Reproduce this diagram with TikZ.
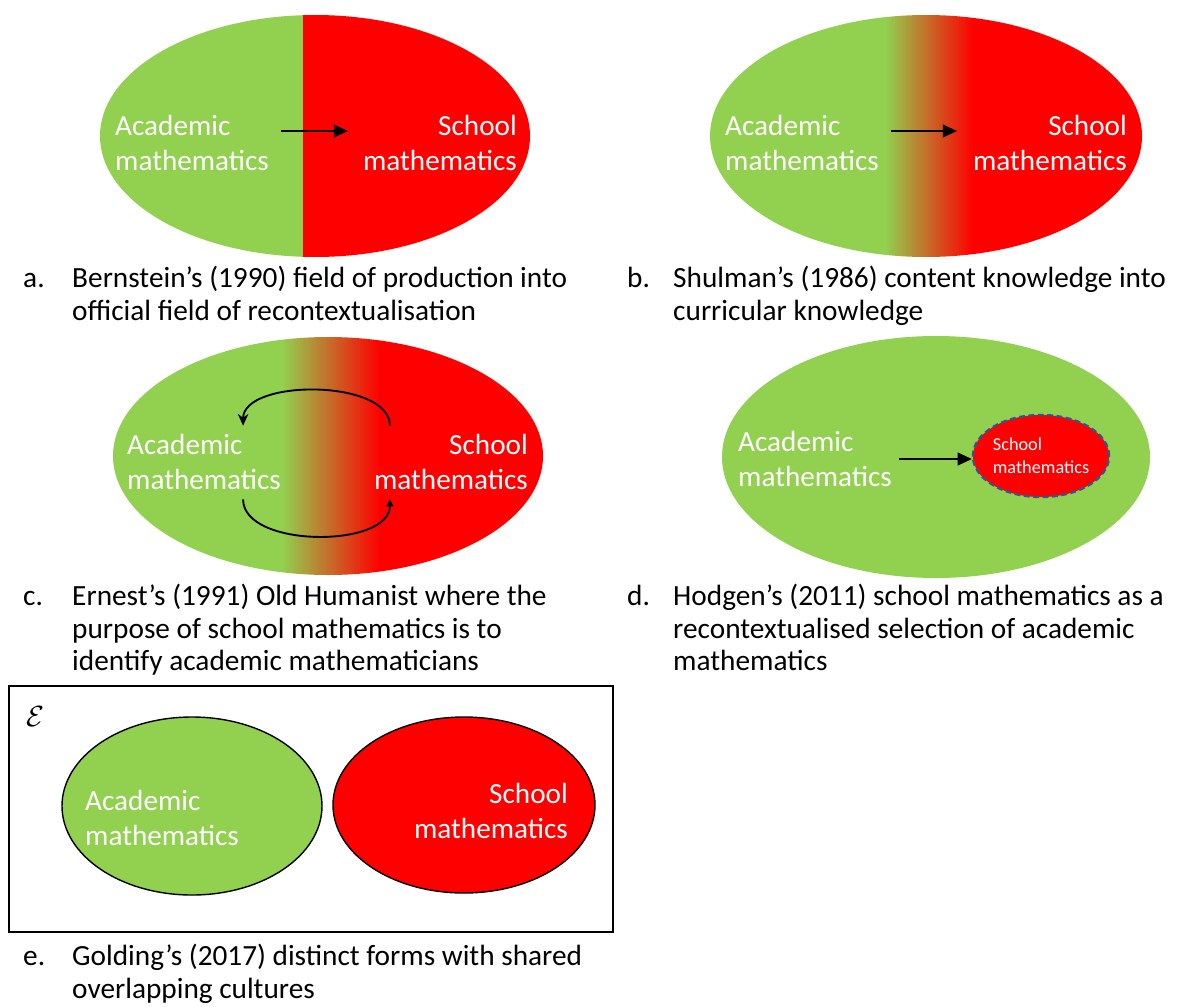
\documentclass[tikz,border=0pt]{standalone}
\usepackage{fontspec}
\setmainfont{Carlito}
\usetikzlibrary{arrows.meta}
\usetikzlibrary{shapes.geometric, positioning}
\definecolor{acadgreen}{RGB}{146,208,80}
\definecolor{schoolred}{RGB}{255,0,0}
\definecolor{dashblue}{RGB}{47,85,151}
\tikzset{
  lbl/.style={text=white, align=left, inner sep=0, anchor=west, font=\fontsize{24.9}{30.5}\selectfont},
  lblr/.style={lbl, align=right, anchor=east},
  captxt/.style={align=left, inner sep=0, anchor=north west, font=\fontsize{25}{28}\selectfont},
  arr/.style={-{Triangle[length=12pt,width=11pt]}, line width=1.1pt},
  cyclearr/.style={-{Stealth[length=10pt,width=9pt]}, line width=1.6pt},
}

\begin{document}
\begin{tikzpicture}[x=0.03cm, y=-0.03cm]
  \useasboundingbox (0,0) rectangle (1178,1006);

  % a. sharp split
  \begin{scope}
    \clip (315,136) ellipse [x radius=215, y radius=121];
    \fill[acadgreen] (90,0) rectangle (303,270);
    \fill[schoolred] (303,0) rectangle (540,270);
  \end{scope}
  \node[lbl] (acadA) at (115,143) {Academic\\mathematics};
  \node[lblr] (schoolA) at (517,143) {School\\mathematics};
  \draw[arr] ([shift={(12,-12)}]acadA.east) -- ([shift={(-15,-12)}]schoolA.west);
  \node[captxt] (labA) at (23,264) {\strut a.};
  \node[captxt] (capA) at (72,264) {\strut Bernstein’s (1990) field of production into\\official field of recontextualisation};

  % b. blended
  \begin{scope}
    \clip (926,136) ellipse [x radius=216, y radius=121];
    \fill[acadgreen] (700,0) rectangle (885,270);
    \shade[left color=acadgreen, right color=schoolred] (885,0) rectangle (973,270);
    \fill[schoolred] (973,0) rectangle (1150,270);
  \end{scope}
  \node[lbl] (acadB) at (725,143) {Academic\\mathematics};
  \node[lblr] (schoolB) at (1127,143) {School\\mathematics};
  \draw[arr] ([shift={(12,-12)}]acadB.east) -- ([shift={(-16,-12)}]schoolB.west);
  \node[captxt] (labB) at (627,264) {\strut b.};
  \node[captxt] (capB) at (673,264) {\strut Shulman’s (1986) content knowledge into\\curricular knowledge};

  % c. blended with cycle
  \begin{scope}
    \clip (328,456) ellipse [x radius=215, y radius=119];
    \fill[acadgreen] (100,330) rectangle (282,590);
    \shade[left color=acadgreen, right color=schoolred] (282,330) rectangle (380,590);
    \fill[schoolred] (380,330) rectangle (560,590);
  \end{scope}
  \node[lbl] (acadC) at (127,462) {Academic\\mathematics};
  \node[lblr] (schoolC) at (528,462) {School\\mathematics};
  \draw[cyclearr] ([shift={(16,-8)}]schoolC.north west) .. controls +(0,-47) and +(0,-47) .. ([shift={(-38,-8)}]acadC.north east);
  \draw[line width=1.6pt, -{Triangle[length=6pt,width=6pt]}] ([shift={(-38,9)}]acadC.south east) .. controls +(0,49) and +(0,49) .. ([shift={(16,9)}]schoolC.south west);
  \node[captxt] (labC) at (23,582) {\strut c.};
  \node[captxt] (capC) at (72,582) {\strut Ernest’s (1991) Old Humanist where the\\purpose of school mathematics is to\\identify academic mathematicians};

  % d. selection
  \fill[acadgreen] (936,457) ellipse [x radius=214, y radius=121];
  \node[lbl] (acadD) at (738,459) {Academic\\mathematics};
  \node[ellipse, fill=schoolred, draw=dashblue, dash pattern=on 5pt off 3pt, line width=2pt, minimum width=124*0.03cm, minimum height=82*0.03cm, inner sep=0, text=white, align=left, font=\fontsize{15.6}{19.6}\selectfont] (schoolD) at (1041,456) {School\\mathematics};
  \draw[arr] ([xshift=7*0.03cm]acadD.east) -- ([yshift=-3*0.03cm]schoolD.west);
  \node[captxt] (labD) at (627,582) {\strut d.};
  \node[captxt] (capD) at (673,582) {\strut Hodgen’s (2011) school mathematics as a\\recontextualised selection of academic\\mathematics};

  % e. distinct forms
  \draw[line width=1.3pt] (9,686) rectangle (613,932);
  \node[inner sep=0, font=\fontsize{44}{44}\selectfont] (univ) at (35,717) {$\mathcal{E}$};
  \filldraw[fill=acadgreen, draw=black, line width=1.2pt] (192,806) ellipse [x radius=130, y radius=89];
  \filldraw[fill=schoolred, draw=black, line width=1.2pt] (464,805) ellipse [x radius=131, y radius=88];
  \node[lbl] (acadE) at (85,818) {Academic\\mathematics};
  \node[lblr] (schoolE) at (568,811) {School\\mathematics};
  \node[captxt] (labE) at (23,942) {\strut e.};
  \node[captxt] (capE) at (72,942) {\strut Golding’s (2017) distinct forms with shared\\overlapping cultures};
\end{tikzpicture}
\end{document}
